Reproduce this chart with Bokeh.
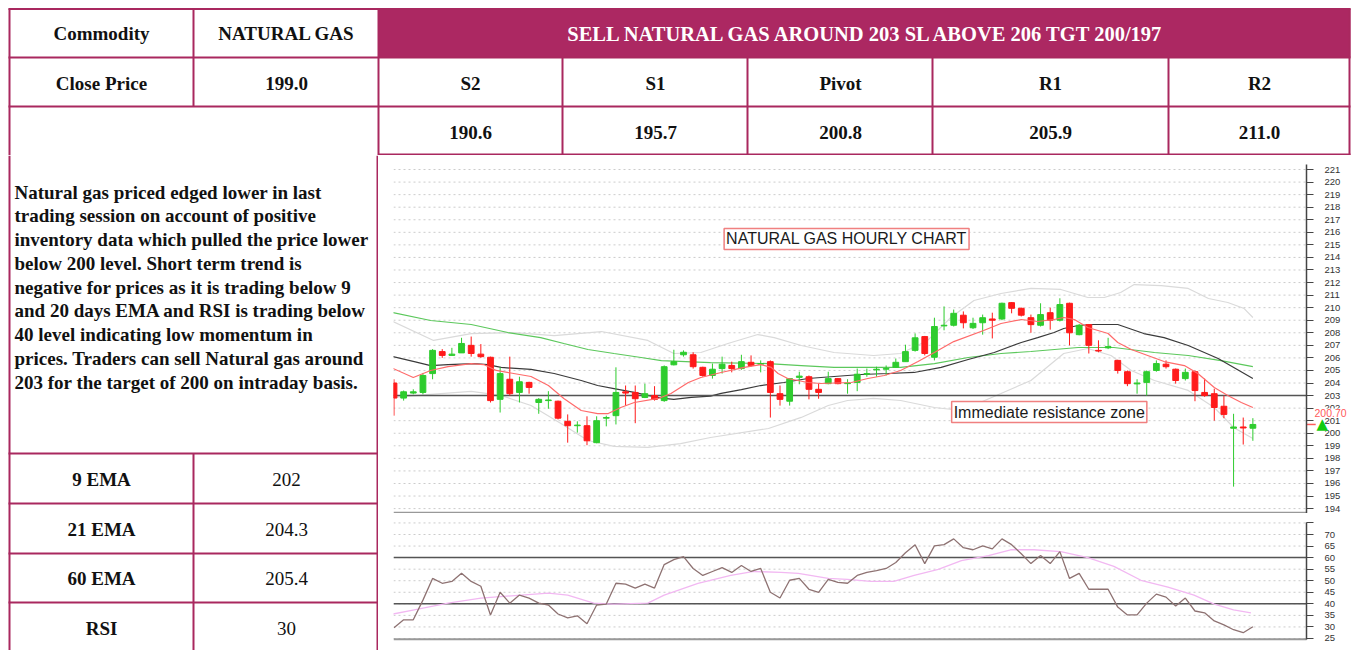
from bokeh.plotting import figure
from bokeh.layouts import column, row
from bokeh.models import Range1d, Label, FixedTicker, ColumnDataSource, LinearAxis
from bokeh.embed import file_html
from bokeh.resources import INLINE
from bokeh.core.properties import value

# ---------------- table content ----------------
commodity = "NATURAL GAS"
close_price = 199.0
call_text = "SELL NATURAL GAS AROUND 203 SL ABOVE 206 TGT 200/197"
level_names = ["S2", "S1", "Pivot", "R1", "R2"]
level_values = [190.6, 195.7, 200.8, 205.9, 211.0]
ind_names = ["9 EMA", "21 EMA", "60 EMA", "RSI"]
ind_values = ["202", "204.3", "205.4", "30"]
comment_lines = [
    "Natural gas priced edged lower in last",
    "trading session on account of positive",
    "inventory data which pulled the price lower",
    "below 200 level. Short term trend is",
    "negative for prices as it is trading below 9",
    "and 20 days EMA and RSI is trading below",
    "40 level indicating low momentum in",
    "prices. Traders can sell Natural gas around",
    "203 for the target of 200 on intraday basis.",
]

# ---------------- hourly candles ----------------
opens = [204.0, 202.8, 203.2, 203.25, 204.75, 206.5, 206.2, 206.4, 207.0, 206.3,
         206.05, 202.7, 204.3, 203.25, 204.05, 202.45, 202.6, 202.55, 200.95, 200.6,
         200.6, 199.25, 201.2, 201.4, 203.3, 203.25, 202.85, 203.0, 202.6, 205.45,
         206.25, 206.25, 205.25, 204.6, 205.15, 205.4, 205.15, 205.65, 205.5, 205.7,
         203.15, 202.55, 204.45, 204.5, 203.5, 203.95, 204.35, 203.95, 204.05, 204.7,
         205.05, 205.1, 205.25, 205.7, 206.6, 207.7, 206.05, 208.55, 208.6, 209.4,
         208.4, 208.8, 209.1, 209.1, 210.4, 209.95, 209.2, 208.6, 209.6, 209.0,
         210.35, 207.85, 208.65, 206.6, 206.8, 205.8, 204.9, 203.93, 204.05, 205.0,
         205.5, 205.1, 204.35, 204.9, 203.25, 203.15, 202.15, 200.4, 200.5, 200.4]
highs = [204.3, 203.4, 203.5, 204.8, 206.7, 206.7, 206.8, 207.6, 207.7, 207.1,
         206.1, 205.25, 206.1, 204.5, 204.1, 202.8, 203.35, 202.6, 201.5, 200.95,
         201.35, 201.35, 201.4, 205.25, 203.8, 203.8, 203.95, 203.75, 205.4, 206.65,
         206.6, 206.45, 205.3, 205.55, 206.1, 205.7, 206.25, 206.2, 205.8, 205.8,
         203.8, 204.4, 204.9, 204.6, 203.95, 204.9, 204.4, 204.3, 205.15, 205.15,
         205.3, 205.4, 205.95, 207.05, 207.95, 207.75, 209.2, 210.1, 209.85, 209.7,
         209.2, 209.45, 209.6, 210.4, 210.45, 210.0, 209.45, 210.35, 210.0, 210.75,
         210.4, 208.7, 208.7, 207.4, 207.6, 205.85, 205.0, 204.3, 205.0, 205.8,
         205.8, 205.15, 205.15, 205.0, 204.35, 203.55, 203.0, 201.55, 201.25, 201.2]
lows = [201.4, 202.6, 203.1, 203.1, 204.3, 206.0, 206.2, 206.4, 206.1, 206.0,
        202.45, 201.65, 203.0, 202.45, 203.15, 201.55, 201.95, 201.1, 199.25, 200.05,
        199.05, 199.2, 200.55, 200.7, 202.2, 200.8, 202.8, 202.6, 202.5, 205.4,
        206.1, 205.15, 204.5, 204.35, 204.75, 204.85, 205.05, 205.3, 204.85, 201.25,
        202.2, 202.2, 203.9, 202.7, 202.75, 203.9, 203.9, 203.15, 203.35, 204.5,
        204.5, 204.6, 205.2, 205.7, 206.5, 206.2, 205.8, 208.2, 208.5, 208.35,
        208.3, 207.85, 207.55, 209.0, 209.55, 209.3, 208.0, 208.5, 208.25, 208.9,
        207.0, 207.8, 206.35, 206.45, 206.7, 204.75, 203.75, 203.15, 203.0, 204.9,
        205.15, 203.95, 204.2, 202.55, 202.9, 201.0, 201.2, 195.75, 199.1, 199.4]
closes = [202.8, 203.3, 203.3, 204.6, 206.6, 206.2, 206.3, 207.15, 206.35, 206.1,
          202.6, 204.75, 203.15, 204.1, 203.65, 202.7, 202.65, 201.2, 200.6, 200.65,
          199.4, 201.0, 201.25, 203.25, 203.2, 202.75, 203.15, 202.7, 205.3, 205.7,
          206.45, 205.3, 204.6, 205.1, 205.5, 205.15, 205.7, 205.4, 205.55, 203.25,
          202.7, 204.35, 204.55, 203.5, 203.25, 204.35, 203.95, 204.0, 204.7, 204.75,
          205.1, 205.15, 205.65, 206.5, 207.6, 206.35, 208.5, 208.6, 209.55, 208.8,
          208.75, 209.2, 209.0, 210.35, 209.95, 209.4, 208.65, 209.45, 209.0, 210.25,
          208.0, 208.6, 207.0, 206.55, 206.9, 205.0, 203.95, 204.0, 204.9, 205.55,
          205.3, 204.2, 204.85, 203.4, 203.0, 202.05, 201.5, 200.5, 200.42, 200.7]

# moving averages and bands (bar index, price)
ema9_x = [-0.1, 2.0, 3.8, 5.6, 8.0, 9.3, 10.6, 12.4, 14.2, 16.0, 17.6, 19.4, 21.1, 22.2, 23.5,
          24.9, 27.4, 28.7, 30.5, 31.8, 33.9, 36.3, 38.0, 39.1, 39.8, 40.8, 42.9, 44.2, 47.4,
          49.1, 50.8, 52.5, 54.3, 56.0, 58.0, 61.1, 62.9, 65.0, 66.7, 68.4, 69.4, 70.5, 71.9,
          74.0, 75.0, 76.4, 78.1, 79.8, 81.9, 83.3, 85.0, 86.4, 87.8, 89.0]
ema9_y = [205.16, 204.44, 205.0, 205.31, 205.55, 205.47, 205.0, 204.76, 204.52, 203.8, 202.77,
          201.81, 201.57, 201.57, 202.05, 202.45, 202.77, 203.17, 204.04, 204.44, 204.84, 205.24,
          205.47, 205.24, 204.76, 204.36, 204.04, 203.96, 204.04, 204.36, 204.6, 205.0, 205.71,
          206.43, 207.3, 208.18, 208.74, 209.06, 208.9, 209.06, 209.22, 209.06, 208.42, 207.94,
          207.23, 206.67, 206.19, 205.71, 205.39, 204.76, 203.64, 203.01, 202.45, 202.05]
ema21_x = [-0.1, 2.1, 3.8, 5.6, 8.3, 9.7, 11.1, 14.2, 16.6, 19.4, 21.1, 22.8, 24.9, 26.3, 28.0,
           29.0, 30.8, 32.8, 33.9, 36.0, 38.0, 40.4, 42.9, 45.6, 48.4, 51.2, 53.9, 56.7, 59.5,
           62.2, 65.0, 66.7, 68.4, 69.4, 70.9, 72.5, 75.0, 77.7, 79.8, 82.3, 85.4, 89.0]
ema21_y = [206.11, 205.71, 205.39, 205.47, 205.55, 205.47, 205.24, 205.08, 204.76, 204.2, 203.8,
           203.56, 203.25, 203.01, 202.77, 202.69, 202.85, 202.95, 203.17, 203.48, 203.8, 204.04,
           204.36, 204.52, 204.68, 204.76, 204.84, 205.24, 205.87, 206.43, 207.23, 207.62, 208.02,
           208.34, 208.58, 208.66, 208.66, 207.94, 207.62, 206.99, 205.95, 204.36]
ema60_x = [-0.1, 3.8, 8.0, 11.8, 15.2, 17.6, 20.1, 22.8, 25.6, 27.7, 32.8, 38.8, 42.2, 45.6,
           49.1, 52.5, 56.0, 59.5, 62.9, 66.0, 70.9, 74.6, 78.8, 82.3, 85.7, 89.0]
ema60_y = [209.61, 208.98, 208.66, 208.02, 207.62, 207.15, 206.67, 206.35, 206.03, 205.79, 205.63,
           205.55, 205.39, 205.24, 205.24, 205.24, 205.55, 206.03, 206.35, 206.51, 206.83, 206.83,
           206.43, 206.19, 205.79, 205.31]
bb_up_x = [-0.1, 4.1, 8.0, 12.4, 16.6, 21.5, 26.3, 29.0, 31.8, 34.6, 37.7, 39.4, 42.2, 45.6,
           49.7, 52.5, 55.3, 57.7, 60.1, 62.9, 66.0, 69.1, 71.9, 73.6, 75.3, 76.7, 79.5, 82.3,
           84.4, 86.4, 88.1, 89.0]
bb_up_y = [208.9, 207.39, 207.94, 208.02, 207.78, 208.1, 207.39, 206.35, 206.43, 207.15, 207.86,
           207.62, 206.99, 206.43, 206.19, 206.35, 207.39, 209.22, 210.57, 211.13, 211.53, 211.45,
           210.81, 210.81, 211.21, 211.84, 211.76, 211.53, 210.73, 210.41, 209.93, 209.22]
bb_lo_x = [-0.1, 3.8, 8.0, 11.1, 14.2, 17.3, 20.1, 22.8, 26.3, 29.7, 32.8, 38.8, 42.2, 45.0,
           47.0, 49.7, 52.5, 56.0, 58.8, 62.9, 66.0, 69.4, 71.9, 74.3, 76.4, 78.8, 82.3, 85.0,
           87.0, 89.0]
bb_lo_y = [202.85, 203.09, 203.33, 203.01, 202.21, 200.78, 199.42, 198.95, 198.87, 199.18, 199.66,
           200.38, 201.26, 202.21, 202.61, 202.77, 202.61, 202.05, 201.81, 203.17, 204.2, 206.35,
           206.75, 206.19, 205.0, 204.2, 203.41, 202.05, 200.46, 199.58]
resistance = 203
last_price = 200.70

# RSI
rsi_values = [29.7, 33.1, 33.1, 41.6, 51.0, 48.9, 49.7, 53.2, 49.7, 47.6,
              35.2, 45.0, 40.3, 43.8, 42.5, 40.3, 39.5, 35.6, 33.9, 34.8,
              31.4, 39.5, 39.9, 48.9, 48.5, 46.8, 48.5, 46.8, 57.0, 59.1,
              60.4, 55.3, 52.3, 54.0, 55.7, 53.6, 56.6, 54.0, 55.3, 45.0,
              42.5, 50.2, 51.0, 46.3, 45.0, 50.6, 49.3, 48.9, 52.3, 53.6,
              54.4, 55.3, 57.9, 62.1, 65.6, 57.4, 65.1, 65.6, 68.1, 64.3,
              63.4, 65.1, 63.8, 68.1, 65.6, 61.7, 57.4, 60.9, 57.4, 62.6,
              51.0, 53.2, 46.3, 46.3, 46.3, 38.6, 35.2, 35.2, 40.3, 44.2,
              42.9, 39.1, 42.5, 36.9, 36.1, 32.6, 30.9, 28.8, 27.5, 30.1]
rsi_sig_x = [-0.1, 2.1, 5.6, 9.0, 13.2, 16.0, 18.0, 20.7, 22.8, 26.3, 28.0, 31.5, 34.9, 37.3,
             40.1, 41.9, 45.0, 47.0, 49.4, 51.8, 53.9, 56.4, 58.8, 61.6, 63.9, 66.3, 69.1, 71.9,
             74.6, 77.4, 80.2, 82.9, 85.0, 87.0, 88.8]
rsi_sig_y = [35.6, 37.4, 40.3, 42.5, 43.8, 44.6, 43.8, 40.3, 39.9, 40.3, 43.8, 48.9, 52.3, 54.0,
             53.6, 53.2, 51.0, 50.6, 49.7, 49.7, 52.3, 54.9, 58.7, 60.9, 63.4, 63.4, 62.6, 60.0,
             56.2, 50.2, 47.2, 43.8, 39.9, 37.4, 36.1]
rsi_levels = [60, 40]
price_ticks = list(range(194, 222))
rsi_ticks = list(range(25, 80, 5))

# ---------------- styling ----------------
MAG = "#A9285F"
SERIF = value("Liberation Serif")
SANS = "Liberation Sans"
W = 1351
X_START = -0.05      # left edge of the plotting area (bar index)
X_AXIS = 94.56       # bar-index position of the price scale line
X_END = 99.22        # right edge of the canvas (bar index)


def blank(width, height, xr, yr):
    p = figure(width=width, height=height, x_range=Range1d(*xr), y_range=Range1d(*yr),
               toolbar_location=None, output_backend="svg", min_border=0,
               x_axis_location=None, y_axis_location=None)
    p.outline_line_color = None
    p.grid.visible = False
    return p


def chart(height, yr, ticks, top_b, bot_b, xr, bounds, base):
    p = figure(width=973, height=height, x_range=xr, y_range=Range1d(*yr),
               toolbar_location=None, output_backend="svg", x_axis_location=None,
               y_axis_location=None, min_border_left=15, min_border_right=0,
               min_border_top=top_b, min_border_bottom=bot_b)
    p.outline_line_color = None
    p.grid.visible = False
    # dotted horizontal grid at each tick, up to the price scale
    p.segment(x0=[X_START] * len(ticks), x1=[X_AXIS] * len(ticks), y0=ticks, y1=ticks,
              line_color="#CCCCCC", line_dash="2 3", line_width=1)
    # bottom edge of the panel
    p.segment(x0=[X_START], x1=[X_AXIS], y0=[base], y1=[base], line_color="#999999",
              line_width=2)
    a = LinearAxis(fixed_location=X_AXIS, ticker=FixedTicker(ticks=ticks), bounds=bounds)
    a.axis_line_color = "#444444"
    a.axis_line_width = 1.5
    a.major_tick_line_color = "#444444"
    a.major_tick_in = 0
    a.major_tick_out = 7
    a.minor_tick_line_color = None
    a.major_label_standoff = 11
    a.major_label_text_font = SANS
    a.major_label_text_font_size = "9.5px"
    a.major_label_text_color = "#333333"
    p.add_layout(a, "right")
    return p, a


def hline(p, y, color, width):
    p.segment(x0=[X_START], x1=[X_AXIS], y0=[y], y1=[y], line_color=color, line_width=width)


# ---- top table band ----
top = blank(W, 155, (0, W), (155, 0))
top.quad(left=378, right=1350, top=8, bottom=57, fill_color="#AC2862", line_color=None)
hx0 = [8, 8, 8, 378]
hx1 = [1350, 1350, 1350, 1350]
hy = [8.5, 57, 106, 154]
top.segment(x0=hx0, y0=hy, x1=hx1, y1=hy, line_color=MAG, line_width=2)
vx = [9, 193, 378, 562, 747, 932, 1168, 1349]
vy0 = [8, 8, 8, 57, 57, 57, 57, 8]
vy1 = [155, 106, 155, 155, 155, 155, 155, 155]
top.segment(x0=vx, y0=vy0, x1=vx, y1=vy1, line_color=MAG, line_width=2)
top.text(x=[101, 286], y=[33, 33], text=["Commodity", commodity], text_font=SERIF,
         text_font_style="bold", text_font_size="19px", text_align="center",
         text_baseline="middle", text_color="#111111")
top.text(x=[867], y=[33], text=[call_text], text_font=SERIF, text_font_style="bold",
         text_font_size="20.5px", text_align="center", text_baseline="middle", text_color="white")
top.text(x=[101, 286], y=[83, 83], text=["Close Price", "%.1f" % close_price], text_font=SERIF,
         text_font_style="bold", text_font_size="19px", text_align="center",
         text_baseline="middle", text_color="#111111")
cell_cx = [470, 655, 840, 1050, 1259]
top.text(x=cell_cx, y=[83] * 5, text=level_names, text_font=SERIF, text_font_style="bold",
         text_font_size="19px", text_align="center", text_baseline="middle", text_color="#111111")
top.text(x=cell_cx, y=[132] * 5, text=["%.1f" % v for v in level_values], text_font=SERIF,
         text_font_style="bold", text_font_size="19px", text_align="center",
         text_baseline="middle", text_color="#111111")

# ---- left table column ----
left = blank(378, 495, (0, 378), (650, 155))
left.segment(x0=[9, 377, 193], y0=[155, 155, 453], x1=[9, 377, 193], y1=[650, 650, 650],
             line_color=MAG, line_width=2)
ry = [453, 503, 553, 602]
left.segment(x0=[8] * 4, y0=ry, x1=[378] * 4, y1=ry, line_color=MAG, line_width=2)
left.text(x=[14] * len(comment_lines), y=[191.7 + 23.75 * i for i in range(len(comment_lines))],
          text=comment_lines, text_font=SERIF, text_font_style="bold", text_font_size="19px",
          text_align="left", text_baseline="alphabetic", text_color="#111111")
row_cy = [479, 529, 578, 628]
left.text(x=[101] * 4, y=row_cy, text=ind_names, text_font=SERIF, text_font_style="bold",
          text_font_size="19px", text_align="center", text_baseline="middle", text_color="#111111")
left.text(x=[286] * 4, y=row_cy, text=ind_values, text_font=SERIF,
          text_font_size="19px", text_align="center", text_baseline="middle", text_color="#111111")

# ---- price chart ----
XR = Range1d(X_START, X_END)
price, pax = chart(358, (193.61, 221.48), price_ticks, 8, 0, XR, (193.61, 221.4), 193.66)

price.line(bb_up_x, bb_up_y, line_color="#DADADA", line_width=1.2)
price.line(bb_lo_x, bb_lo_y, line_color="#DADADA", line_width=1.2)
price.line(ema60_x, ema60_y, line_color="#5CC85C", line_width=1.2)
price.line(ema21_x, ema21_y, line_color="#3A3A3A", line_width=1.2)
hline(price, resistance, "#555555", 1.5)

idx = list(range(len(opens)))
colors = ["#2ECC2E" if c >= o else "#FF1A1A" for o, c in zip(opens, closes)]
src = ColumnDataSource(dict(x=idx, o=opens, h=highs, l=lows, c=closes,
                            top=[max(o, c) for o, c in zip(opens, closes)],
                            bot=[min(o, c) for o, c in zip(opens, closes)], col=colors))
price.segment(x0="x", y0="h", x1="x", y1="l", line_color="col", line_width=1, source=src)
price.vbar(x="x", width=0.6, top="top", bottom="bot", fill_color="col", line_color="col",
           line_width=1, source=src)
price.line(ema9_x, ema9_y, line_color="#FF6A6A", line_width=1.2)

price.add_layout(Label(x=46.9, y=215.47, text="NATURAL GAS HOURLY CHART", text_align="center",
                       text_baseline="middle", text_font=SANS, text_font_size="16px",
                       text_color="#1A1A1A", border_line_color="#F08080", border_line_width=1.5,
                       background_fill_color="white", padding=2))
price.add_layout(Label(x=67.9, y=201.69, text="Immediate resistance zone", text_align="center",
                       text_baseline="middle", text_font=SANS, text_font_size="16px",
                       text_color="#1A1A1A", border_line_color="#F08080", border_line_width=1.5,
                       background_fill_color="white", padding=2))
# last price marker on the scale
price.segment(x0=[X_AXIS], x1=[X_AXIS + 0.95], y0=[last_price], y1=[last_price],
              line_color="#FF5A5A", line_width=1.5)
price.add_layout(Label(x=97.05, y=201.65, text="%.2f" % last_price, text_align="center",
                       text_baseline="middle", text_font=SANS, text_font_size="10.5px",
                       text_color="#FF5A5A", background_fill_color="white"))
price.add_layout(Label(x=96.2, y=last_price, text="\u25B2", text_align="center",
                       text_baseline="middle", text_font="DejaVu Sans", text_font_size="15px",
                       text_color="#11CC11"))

# ---- RSI chart ----
rsi, rax = chart(137, (21.97, 77.79), rsi_ticks, 3, 5, XR, (24.65, 75.0), 24.65)
rax.major_label_overrides = {75: ""}
for lv in rsi_levels:
    hline(rsi, lv, "#555555", 1.5)
rsi.line(rsi_sig_x, rsi_sig_y, line_color="#F2B8F2", line_width=1.3)
rsi.line(idx, rsi_values, line_color="#8E7272", line_width=1.3)

layout = column(top, row(left, column(price, rsi)))
open("out.html", "w").write(file_html(layout, INLINE))
